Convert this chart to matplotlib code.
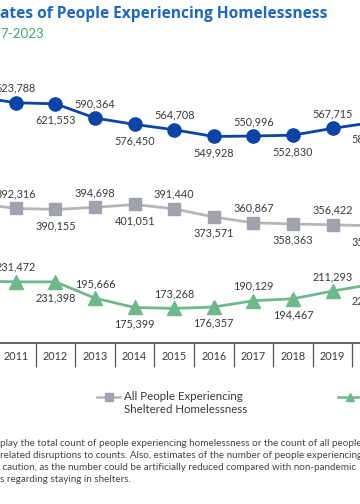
import matplotlib
matplotlib.use("Agg")
import matplotlib.pyplot as plt
from matplotlib.lines import Line2D

# ---- data ----
years = [2010, 2011, 2012, 2013, 2014, 2015, 2016, 2017, 2018, 2019, 2020]
total = [637077, 623788, 621553, 590364, 576450, 564708, 549928, 550996, 552830, 567715, 580466]
sheltered = [403543, 392316, 390155, 394698, 401051, 391440, 373571, 360867, 358363, 356422, 354386]
unsheltered = [233534, 231472, 231398, 195666, 175399, 173268, 176357, 190129, 194467, 211293, 226080]
tick_years = [2011, 2012, 2013, 2014, 2015, 2016, 2017, 2018, 2019, 2020]

title = "ates of People Experiencing Homelessness"
subtitle = "7-2023"
legend_sheltered = "All People Experiencing\nSheltered Homelessness"
note_lines = [
    "play the total count of people experiencing homelessness or the count of all people",
    "related disruptions to counts. Also, estimates of the number of people experiencing",
    " caution, as the number could be artificially reduced compared with non-pandemic",
    "s regarding staying in shelters.",
]

BLUE = "#0b43a6"
GRAY_M = "#a0a3ab"
GRAY_L = "#b3b6bb"
GREEN = "#6db98b"
TXT = "#3a3a3a"

plt.rcParams['font.family'] = ['Lato', 'DejaVu Sans']

W, H = 360, 504
fig = plt.figure(figsize=(W / 100, H / 100), dpi=100)

# axes placement in pixels
top_px, bot_px = 68.0, 342.5
ax = fig.add_axes([0, (H - bot_px) / H, 1, (bot_px - top_px) / H])

for vals, col, lcol, mk, ms in [
    (total, BLUE, BLUE, 'o', 9.5),
    (sheltered, GRAY_M, GRAY_L, 's', 8.6),
    (unsheltered, GREEN, GREEN, '^', 9.5),
]:
    ax.plot(years, vals, color=lcol, lw=2.0, zorder=2)
    ax.plot(years, vals, ls='none', marker=mk, ms=ms, color=col, mec=col, zorder=3)
    for i, (yr, v) in enumerate(zip(years, vals)):
        if yr < 2011:
            continue
        above = (yr - 2011) % 2 == 0
        ax.annotate(f"{v:,}", (yr, v), xytext=(0, 10.5 if above else -11.8),
                    textcoords='offset points', ha='center', va='center',
                    fontsize=7.8, color=TXT, zorder=4, annotation_clip=False)

# axis styling
for s in ['top', 'left', 'right']:
    ax.spines[s].set_visible(False)
ax.spines['bottom'].set_color('#555555')
ax.spines['bottom'].set_linewidth(1.3)
ax.set_yticks([])
ax.set_xticks(tick_years)
ax.set_xticklabels([str(y) for y in tick_years], fontsize=7.8, color=TXT)
ax.tick_params(axis='x', which='major', length=0, pad=6)
ax.set_xticks([y + 0.5 for y in tick_years[:-1]] + [tick_years[0] - 0.5], minor=True)
ax.tick_params(axis='x', which='minor', length=17.5, width=0.9, color='#555555', direction='out')

# view limits (set after ticks so they are not expanded)
x0 = 2011 - 15.9 / 39.575
ax.set_xlim(x0, x0 + W / 39.575)
ax.set_ylim(98600, 700000)

# title / subtitle
fig.text(0.0, 1 - 18.5 / H, title, fontsize=11.2, fontweight='bold', color="#1c68c0",
         ha='left', va='baseline', family=['Open Sans', 'DejaVu Sans'])
fig.text(0.0, 1 - 38.3 / H, subtitle, fontsize=9.6, color="#3bab6b", ha='left', va='baseline')

# legend (manual)
ly = 1 - 397 / H
fig.add_artist(Line2D([97 / W, 120 / W], [ly, ly], color=GRAY_L, lw=1.8))
fig.add_artist(Line2D([108.5 / W], [ly], marker='s', ms=5.5, color=GRAY_M, ls='none'))
fig.text(124 / W, 1 - 391 / H, legend_sheltered, fontsize=8.3, color=TXT, ha='left',
         va='top', linespacing=1.25)
fig.add_artist(Line2D([338 / W, 1.0], [ly, ly], color=GREEN, lw=1.8))
fig.add_artist(Line2D([349.5 / W], [ly], marker='^', ms=6, color=GREEN, ls='none'))

# note text
for i, line in enumerate(note_lines):
    fig.text(0.0, 1 - (446.5 + 12 * i) / H, line, fontsize=7.15, color="#444444",
             ha='left', va='baseline')

fig.savefig("out.png", dpi=100, facecolor='white')
